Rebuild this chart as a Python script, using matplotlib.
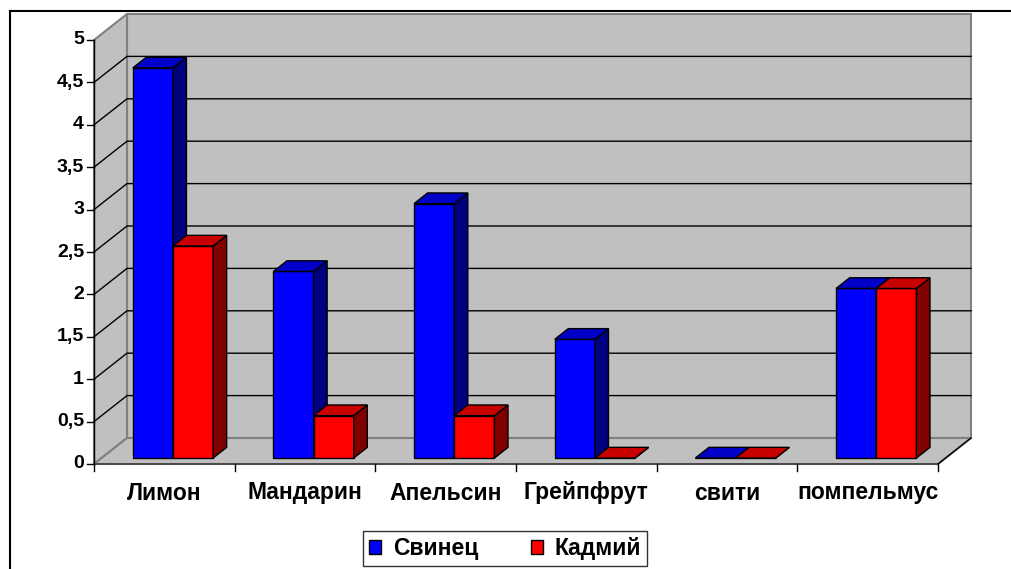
import numpy as np
import matplotlib
matplotlib.use("Agg")
import matplotlib.pyplot as plt
from matplotlib.patches import Polygon, Patch
from matplotlib.lines import Line2D

plt.rcParams['font.family'] = ['Liberation Sans', 'DejaVu Sans']
plt.rcParams['font.weight'] = 'bold'

categories = ['Лимон', 'Мандарин', 'Апельсин', 'Грейпфрут', 'свити', 'помпельмус']
lead = [4.6, 2.2, 3.0, 1.4, 0.0, 2.0]      # Свинец
cadmium = [2.5, 0.5, 0.5, 0.0, 0.0, 2.0]   # Кадмий
series_names = ['Свинец', 'Кадмий']
yticks = np.arange(0, 5.01, 0.5)
ytick_labels = ['0', '0,5', '1', '1,5', '2', '2,5', '3', '3,5', '4', '4,5', '5']

W, H = 1011, 569
PXC = 140.67   # pixels per category
PXV = 84.8     # pixels per value unit
X0, Y0 = 94, 464
DX = 33 / PXC  # depth offset in category units
DY = 26 / PXV  # depth offset in value units
VMAX = 5.0
N = len(categories)

face = {'Свинец': ('#0000FF', '#0000C8', '#000080'),
        'Кадмий': ('#FF0000', '#C80000', '#800000')}
wall = '#C0C0C0'
edge_gray = '#808080'

fig = plt.figure(figsize=(W / 100, H / 100), dpi=100)
ax = fig.add_axes([0, 0, 1, 1])
ax.set_xlim(-X0 / PXC, (W - X0) / PXC)
ax.set_ylim(-(H - Y0) / PXV, Y0 / PXV)
ax.axis('off')


def P(c, v, d):
    return (c + d * DX, v + d * DY)


# walls and floor
back = [P(0, 0, 1), P(N, 0, 1), P(N, VMAX, 1), P(0, VMAX, 1)]
side = [P(0, 0, 0), P(0, 0, 1), P(0, VMAX, 1), P(0, VMAX, 0)]
floor = [P(0, 0, 0), P(N, 0, 0), P(N, 0, 1), P(0, 0, 1)]
for poly in (back, side, floor):
    ax.add_patch(Polygon(poly, closed=True, facecolor=wall, edgecolor=edge_gray, lw=1.5, zorder=1))

# gridlines
for v in yticks[1:-1]:
    a, b, c2 = P(0, v, 0), P(0, v, 1), P(N, v, 1)
    ax.plot([a[0], b[0], c2[0]], [a[1], b[1], c2[1]], color='black', lw=1, zorder=2)

# floor front edge / axis
a, b = P(0, 0, 0), P(N, 0, 0)
ax.plot([a[0], b[0]], [a[1], b[1]], color='#404040', lw=1.2, zorder=2)
b2 = P(N, 0, 1)
ax.plot([b[0], b2[0]], [b[1], b2[1]], color='black', lw=1, zorder=2)
ax.plot([0, 0], [0, VMAX], color='black', lw=1, zorder=2)

# axis ticks
for v, lab in zip(yticks, ytick_labels):
    ax.plot([-7 / PXC, 0], [v, v], color='black', lw=1, zorder=2)
    ax.text(-10 / PXC, v, lab, ha='right', va='center', fontsize=14, fontweight='bold')
for i in range(N + 1):
    ax.plot([i, i], [0, -7 / PXV], color='black', lw=1, zorder=2)
for i, cat in enumerate(categories):
    ax.text(i + 0.5, -29 / PXV, cat, ha='center', va='center', fontsize=16.5, fontweight='bold')

# bars
gap = 1.5
bw = 1 / (2 + gap)
d0, d1 = 0.23, 0.64
for i in range(N):
    for k, (name, vals) in enumerate(zip(series_names, [lead, cadmium])):
        v = vals[i]
        cl = i + gap * bw / 2 + k * bw + 1 / PXC
        cr = cl + bw
        fc, tc, sc = face[name]
        front = [P(cl, 0, d0), P(cr, 0, d0), P(cr, v, d0), P(cl, v, d0)]
        top = [P(cl, v, d0), P(cr, v, d0), P(cr, v, d1), P(cl, v, d1)]
        rside = [P(cr, 0, d0), P(cr, 0, d1), P(cr, v, d1), P(cr, v, d0)]
        z = 3 + i * 2 + k
        ax.add_patch(Polygon(front, closed=True, facecolor=fc, edgecolor='black', lw=1, zorder=z))
        ax.add_patch(Polygon(rside, closed=True, facecolor=sc, edgecolor='black', lw=1, zorder=z))
        ax.add_patch(Polygon(top, closed=True, facecolor=tc, edgecolor='black', lw=1, zorder=z))

# outer chart border (cropped)
fig.add_artist(Line2D([10 / W, 10 / W], [0, 1 - 11 / H], color='black', lw=1.5))
fig.add_artist(Line2D([10 / W, 1], [1 - 11 / H, 1 - 11 / H], color='black', lw=1.5))

handles = [Patch(facecolor=face[n][0], edgecolor='black', lw=1) for n in series_names]
leg = fig.legend(handles, series_names, loc='center', bbox_to_anchor=(505 / W, 1 - 548.5 / H),
                 ncol=2, fontsize=16.5, frameon=True, fancybox=False, edgecolor='black',
                 handlelength=0.55, handleheight=0.55, handletextpad=0.5, columnspacing=2.3,
                 borderpad=0.25, borderaxespad=0)
leg.get_frame().set_linewidth(1)

fig.savefig('out.png', dpi=100)
